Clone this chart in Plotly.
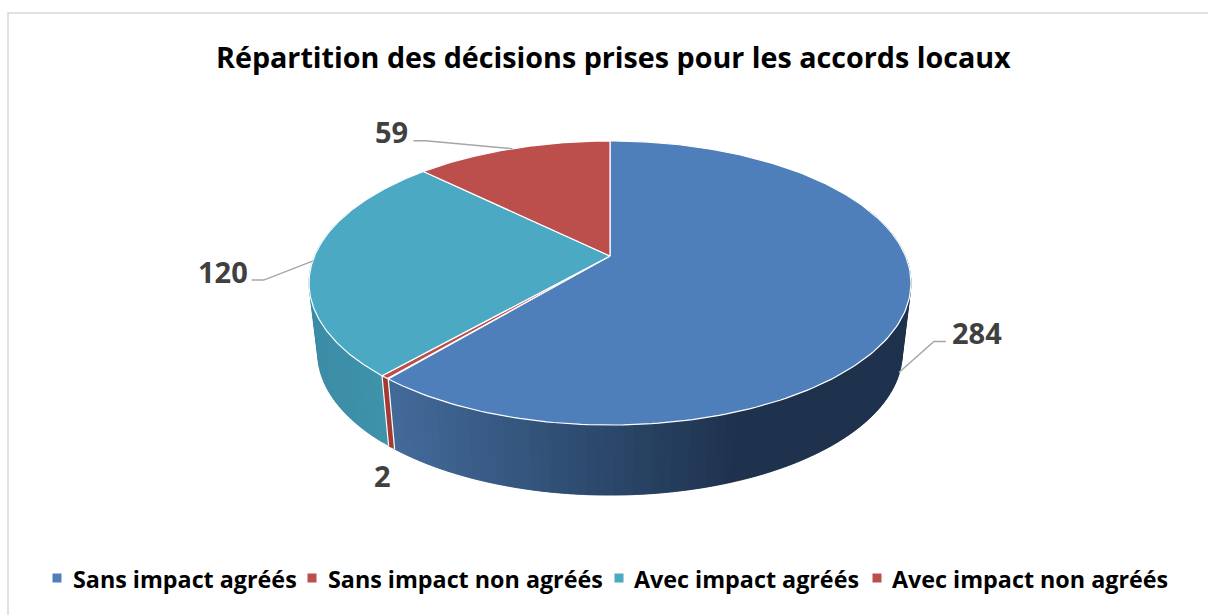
import numpy as np
import plotly.graph_objects as go

# ---------- data ----------
categories = ["Sans impact agréés", "Sans impact non agréés", "Avec impact agréés", "Avec impact non agréés"]
values = [284, 2, 120, 59]
value_labels = ["284", "2", "120", "59"]
title_text = "Répartition des décisions prises pour les accords locaux"

# ---------- style / layout ----------
W, H = 1208, 615
top_colors = ["#4F7FBB", "#BC4E4B", "#4BA9C3", "#BC4E4B"]
wall_left = [(66, 106, 153), (164, 58, 54), (60, 140, 166), (150, 60, 58)]
wall_right = [(30, 50, 77), (164, 58, 54), (62, 146, 170), (150, 60, 58)]
wall_fade = [(400, 735), (380, 400), (315, 385), (380, 520)]
CX = 610
K = 0.19
TOP = dict(A=295.5, B=136.9, y0=256.0)
BOT = dict(A=287.0, B=137.0, y0=326.0)
FONT = "Open Sans"
label_font = dict(family=FONT, size=29, color="#404040", weight=700)
legend_font = dict(family=FONT, size=23.3, color="#000000", weight=700)
title_font = dict(family=FONT, size=28.7, color="#000000", weight=700)
legend_marker_x = [57, 312, 619, 877]
legend_text_x = [71, 326, 632, 890]
legend_marker_y = 578
legend_text_y = 579
# label placement: elbow offset relative to anchor, text position, depth of anchor on wall
leaders = [
    dict(depth=0.95, elbow=(35, -31), end=(47, -31), text=(78, -40)),
    dict(depth=1.0, elbow=None, end=None, text=(-9, 28)),
    dict(depth=0.0, elbow=(-49, 19), end=(-61, 19), text=(-90, 10)),
    dict(depth=0.0, elbow=(-87, -8), end=(-99, -8), text=(-121, -17)),
]


def project(theta, g):
    """theta: clockwise angle from top (radians) -> screen coordinates under perspective."""
    u, v = np.sin(theta), np.cos(theta)
    d = 1 + K * v
    return CX + g["A"] * u / d, g["y0"] - g["B"] * v / d


vals = np.array(values, float)
edges = np.concatenate([[0], np.cumsum(vals)]) / vals.sum() * 2 * np.pi

fig = go.Figure()


def poly(xs, ys, color, line_color=None, width=0.8):
    fig.add_trace(go.Scatter(
        x=list(xs), y=list(ys), mode="lines", fill="toself", fillcolor=color,
        line=dict(color=line_color or color, width=width),
        hoverinfo="skip", showlegend=False))


def rgb(c):
    return "rgb(%d,%d,%d)" % tuple(int(round(a)) for a in c)


# walls: each strip runs on under the next one, so no background shows between strips
for i in range(len(vals)):
    a0, a1 = edges[i], edges[i + 1]
    n = max(2, int(np.degrees(a1 - a0) / 1.5))
    t = np.linspace(a0, a1, n + 1)
    step = t[1] - t[0]
    for j in range(n):
        if np.cos((t[j] + t[j + 1]) / 2) > 0.35:
            continue
        tt = np.linspace(t[j], min(t[j + 1] + step, a1), 4)
        xt, yt = project(tt, TOP)
        xb, yb = project(tt[::-1], BOT)
        xm = project((t[j] + t[j + 1]) / 2, BOT)[0]
        f = np.clip((xm - wall_fade[i][0]) / (wall_fade[i][1] - wall_fade[i][0]), 0, 1)
        c = rgb([wall_left[i][q] + f * (wall_right[i][q] - wall_left[i][q]) for q in range(3)])
        poly(np.r_[xt, xb], np.r_[yt, yb], c, None, 0.5)

# white seams on the wall between slices
for a in edges:
    if np.cos(a) < 0:
        xt, yt = project(a, TOP)
        xb, yb = project(a, BOT)
        fig.add_trace(go.Scatter(x=[xt, xb], y=[yt, yb], mode="lines",
                                 line=dict(color="white", width=1.2),
                                 hoverinfo="skip", showlegend=False))

# top face
for i in range(len(vals)):
    t = np.linspace(edges[i], edges[i + 1], 200)
    x, y = project(t, TOP)
    poly(np.r_[CX, x, CX], np.r_[TOP["y0"], y, TOP["y0"]], top_colors[i], "white", 1.2)

# value labels & leaders
mids = (edges[:-1] + edges[1:]) / 2
for i, lab in enumerate(value_labels):
    L = leaders[i]
    xa, ya = project(mids[i], TOP)
    xb, yb = project(mids[i], BOT)
    d = L["depth"]
    ax, ay = xa + d * (xb - xa), ya + d * (yb - ya)
    if L["elbow"]:
        fig.add_trace(go.Scatter(
            x=[ax, ax + L["elbow"][0], ax + L["end"][0]],
            y=[ay, ay + L["elbow"][1], ay + L["end"][1]],
            mode="lines", line=dict(color="#A6A6A6", width=1.5),
            hoverinfo="skip", showlegend=False))
    fig.add_annotation(x=ax + L["text"][0], y=ay + L["text"][1], text=lab, showarrow=False,
                       font=label_font, xref="x", yref="y", xanchor="center", yanchor="middle")

# legend
for i, cat in enumerate(categories):
    fig.add_trace(go.Scatter(x=[legend_marker_x[i]], y=[legend_marker_y], mode="markers",
                             marker=dict(symbol="square", size=9, color=top_colors[i]),
                             hoverinfo="skip", showlegend=False))
    fig.add_annotation(x=legend_text_x[i], y=legend_text_y, text=cat, showarrow=False, font=legend_font,
                       xref="x", yref="y", xanchor="left", yanchor="middle")

fig.add_annotation(x=613.5, y=56, text=title_text, showarrow=False, font=title_font,
                   xref="x", yref="y", xanchor="center", yanchor="middle")

# chart frame (runs off the right and bottom of the picture)
fig.add_shape(type="rect", x0=8, y0=13, x1=W + 20, y1=H + 20, xref="x", yref="y",
              line=dict(color="#D9D9D9", width=1.5), layer="below")

fig.update_layout(
    width=W, height=H, margin=dict(l=0, r=0, t=0, b=0),
    paper_bgcolor="white", plot_bgcolor="white", showlegend=False,
    xaxis=dict(range=[0, W], visible=False, fixedrange=True),
    yaxis=dict(range=[H, 0], visible=False, fixedrange=True),
)
fig.write_html("out.html", config=dict(displayModeBar=False),
               post_script="document.body.style.margin='0';document.body.style.overflow='hidden';")
